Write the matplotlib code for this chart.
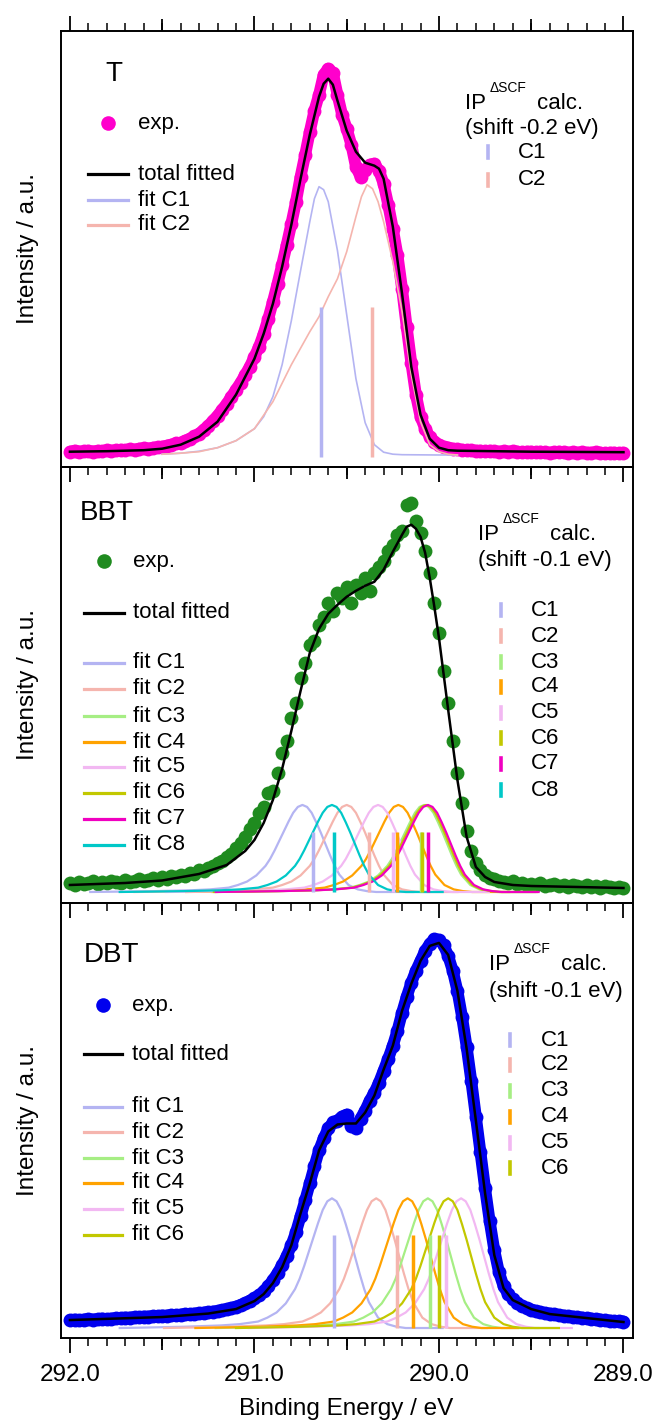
import numpy as np
import matplotlib
matplotlib.use('Agg')
import matplotlib.pyplot as plt
from matplotlib.lines import Line2D
from matplotlib.ticker import FormatStrFormatter

plt.rcParams['font.family'] = ['Liberation Sans', 'DejaVu Sans']

W, H = 657, 1420

# colours of the fitted components / calculated sticks C1..C8
comp_colors = ['#b4b4f2', '#f5b5ae', '#a6ee84', '#ffa200',
               '#f2b8f2', '#c2c800', '#f000c0', '#00c8c8']

# ---------------- T ----------------
# exp. points, 292.0 -> 289.0 eV every 0.025 eV
t_exp_i = [15, 16, 15, 15.5, 16, 15, 16, 15.5, 16.5, 16,
           16.5, 17, 16.5, 17.5, 17, 18, 18.5, 18, 19, 19.5,
           20, 21, 22, 23.5, 24, 26, 28, 30.5, 33, 37,
           41, 46, 51, 57, 63, 70, 77, 84, 92, 100,
           110, 120, 133, 148, 165, 183, 202, 222, 243, 265,
           290, 312, 335, 356, 372, 392, 398, 394, 372, 352,
           338, 322, 300, 290, 297, 302, 303, 296, 283, 262,
           238, 212, 178, 140, 104, 72, 50, 38, 30, 25,
           22, 20, 19, 18, 17.5, 17, 16.5, 16.5, 16, 16,
           15.5, 16, 15.5, 15, 15.5, 15, 15.5, 15, 14.5, 15,
           15, 14.5, 15, 14.5, 14, 14.5, 15, 14.5, 14, 14.5,
           14, 14.5, 14, 14, 14.5, 14, 13.5, 14, 14, 13.5, 14]
t_tot_e = [292.0, 291.8, 291.6, 291.5, 291.4, 291.3, 291.2, 291.1, 291.0, 290.95,
           290.9, 290.85, 290.8, 290.75, 290.7, 290.65, 290.625, 290.6, 290.575, 290.55,
           290.5, 290.45, 290.4, 290.35, 290.325, 290.3, 290.25, 290.2, 290.15, 290.1,
           290.05, 290.0, 289.95, 289.9, 289.5, 289.0]
t_tot_i = [15, 15.5, 16.5, 18, 22, 30, 45, 72, 108, 133,
           163, 200, 242, 288, 332, 370, 383, 388, 382, 366,
           336, 315, 304, 301, 298, 288, 240, 173, 100, 52,
           28, 19, 16.5, 16, 15, 14.5]
t_c1_e = [291.5, 291.4, 291.3, 291.2, 291.1, 291.0, 290.95, 290.9, 290.85, 290.8,
          290.75, 290.7, 290.675, 290.65, 290.625, 290.6, 290.55, 290.5, 290.45, 290.4,
          290.35, 290.3, 290.25, 290.2, 290.0, 289.9]
t_c1_i = [12.5, 13.5, 15.5, 19, 26, 38, 50, 70, 102, 146,
          196, 245, 268, 280, 277, 265, 216, 152, 88, 44,
          22, 14.5, 12.5, 12, 11.7, 11.7]
t_c2_e = [291.5, 291.4, 291.3, 291.2, 291.1, 291.0, 290.9, 290.8, 290.7, 290.65,
          290.6, 290.55, 290.5, 290.45, 290.42, 290.39, 290.36, 290.33, 290.3, 290.25,
          290.2, 290.15, 290.1, 290.05, 290.0, 289.95, 289.9]
t_c2_i = [12.5, 13.5, 15, 19, 26, 38, 65, 102, 135, 150,
          170, 188, 215, 250, 270, 282, 278, 265, 245, 205,
          155, 92, 45, 22, 15, 12.5, 11.7]
t_sticks = [290.64, 290.365]

# ---------------- BBT ----------------
bbt_exp_i = [20, 18, 21, 19, 20, 22, 19, 21, 20, 22,
             21, 20, 23, 21, 22, 24, 22, 23, 25, 23,
             26, 24, 27, 26, 28, 27, 30, 29, 33, 32,
             35, 37, 40, 42, 46, 49, 55, 60, 66, 74,
             80, 90, 96, 110, 112, 130, 150, 162, 185, 200,
             225, 240, 258, 262, 278, 286, 300, 292, 310, 305,
             316, 300, 318, 310, 325, 312, 330, 336, 342, 352,
             358, 368, 372, 398, 400, 382, 370, 352, 330, 300,
             270, 232, 200, 162, 130, 100, 72, 52, 40, 33,
             28, 25, 24, 22, 21, 20, 22, 19, 20, 18,
             19, 18, 20, 17, 18, 19, 17, 18, 16, 18,
             17, 16, 18, 16, 17, 15, 17, 16, 15, 16, 15]
bbt_tot_e = [292.0, 291.7, 291.5, 291.3, 291.15, 291.05, 291.0, 290.95, 290.9, 290.85,
             290.8, 290.75, 290.7, 290.65, 290.6, 290.55, 290.5, 290.45, 290.4, 290.35,
             290.3, 290.25, 290.2, 290.175, 290.15, 290.125, 290.1, 290.075, 290.05, 290.025,
             290.0, 289.95, 289.9, 289.85, 289.8, 289.75, 289.7, 289.6, 289.5, 289.0]
bbt_tot_i = [18, 20, 22.5, 29, 38, 52, 63, 80, 103, 134,
             172, 212, 250, 274, 289, 298, 306, 312, 317, 321,
             333, 351, 368, 376, 378, 374, 366, 350, 325, 296,
             265, 193, 123, 66, 36, 26, 21, 18, 17, 15]
bbt_centers = [290.74, 290.50, 290.08, 290.22, 290.33, 290.07, 290.06, 290.58]
bbt_sticks = [290.68, 290.38, 290.10, 290.23, 290.25, 290.09, 290.06, 290.57]

# ---------------- DBT ----------------
dbt_exp_i = [18, 18.5, 18, 18.5, 19, 18.5, 19, 19.5, 19, 19.5,
             20, 20, 20.5, 20.5, 21, 21, 21.5, 21.5, 22, 22,
             22.5, 22.5, 23, 23, 23.5, 24, 24, 24.5, 25, 25.5,
             26, 26.5, 27, 28, 29, 30, 31.5, 33, 35, 37.5,
             40, 43, 47, 52, 58, 65, 73, 82, 93, 106,
             122, 138, 155, 172, 188, 200, 210, 216, 218, 222,
             224, 212, 210, 220, 228, 238, 246, 256, 268, 280,
             293, 308, 326, 342, 356, 368, 378, 388, 395, 400,
             399, 394, 383, 368, 348, 322, 292, 258, 222, 186,
             150, 117, 88, 66, 52, 44, 39, 35, 32, 30,
             28.5, 27, 26, 25, 24.5, 24, 23, 22.5, 22, 21.5,
             21, 20.5, 20, 19.5, 19, 18.5, 18, 17.5, 17, 17, 16.5]
dbt_tot_e = [292.0, 291.5, 291.25, 291.1, 291.0, 290.95, 290.9, 290.85, 290.8, 290.75,
             290.7, 290.65, 290.6, 290.55, 290.5, 290.45, 290.4, 290.35, 290.3, 290.25,
             290.2, 290.15, 290.1, 290.05, 290.0, 289.95, 289.9, 289.85, 289.8, 289.75,
             289.7, 289.65, 289.6, 289.5, 289.4, 289.2, 289.0]
dbt_tot_i = [18, 21, 24.5, 29, 37, 44, 55, 71, 93, 125,
             155, 188, 207, 214, 215, 215, 226, 243, 269, 293,
             328, 355, 378, 393, 396, 384, 348, 290, 218, 145,
             83, 50, 38, 29, 24, 20, 16]
dbt_centers = [290.58, 290.34, 290.06, 290.17, 289.88, 289.95]
dbt_sticks = [290.57, 290.23, 290.05, 290.14, 289.96, 290.0]

# line shape of one fitted component in BBT/DBT (offset from centre in eV, fraction of peak)
shape_de = [1.15, 1.0, 0.8, 0.6, 0.5, 0.4, 0.35, 0.3, 0.25, 0.2, 0.175, 0.15, 0.125, 0.1, 0.075,
            0.05, 0.025, 0.0, -0.025, -0.05, -0.075, -0.1, -0.125, -0.15, -0.175,
            -0.2, -0.25, -0.3, -0.35, -0.4, -0.6]
shape_f = [0.0, 0.004, 0.01, 0.02, 0.03, 0.05, 0.08, 0.12, 0.19, 0.3, 0.38, 0.48, 0.59, 0.7, 0.81,
           0.91, 0.977, 1.0, 0.977, 0.91, 0.80, 0.68, 0.55, 0.42, 0.30,
           0.2, 0.08, 0.03, 0.01, 0.0, 0.0]


def fx(x):
    return x / W


def fy(y):
    return 1 - y / H


def fig_line(xs, ys, **kw):
    fig.add_artist(Line2D([fx(x) for x in xs], [fy(y) for y in ys],
                          transform=fig.transFigure, **kw))


def fig_txt(x, y, s, size=16, va='center', **kw):
    fig.text(fx(x), fy(y), s, fontsize=size, va=va, ha='left', **kw)


fig = plt.figure(figsize=(W / 100, H / 100), dpi=100)
x0, x1 = 60.7, 632.7
edges = [30.7, 466.7, 903.0, 1338.0]
axes = []
for i in range(3):
    ax = fig.add_axes([fx(x0), fy(edges[i + 1]), (x1 - x0) / W, (edges[i + 1] - edges[i]) / H])
    ax.set_facecolor('none')
    ax.set_xlim(292.05, 288.95)
    ax.set_ylim(0, 436)
    ax.set_yticks([])
    ax.set_xticks([292, 291, 290, 289])
    ax.set_xticks(np.arange(289.0, 292.01, 0.1), minor=True)
    ax.xaxis.set_major_formatter(FormatStrFormatter('%.1f'))
    ax.tick_params(axis='x', which='major', direction='out', length=11, width=1.3,
                   pad=8, labelsize=17.5, labelbottom=(i == 2), top=(i == 0))
    ax.tick_params(axis='x', which='minor', direction='out', length=6, width=1.1, top=(i == 0))
    for s in ax.spines.values():
        s.set_linewidth(1.4)
    sides = ['bottom', 'top'] if i == 0 else ['bottom']
    for side in sides:
        sec = ax.secondary_xaxis(side)
        sec.set_xticks([291.5, 290.5, 289.5])
        sec.tick_params(length=8.3, width=1.3, labelbottom=False, labeltop=False)
        sec.spines[side].set_visible(False)
    axes.append(ax)
    fig.text(fx(28), fy((edges[i] + edges[i + 1]) / 2), 'Intensity / a.u.',
             rotation=90, ha='center', va='center', fontsize=17.5)

fig.text(fx(346), fy(1409), 'Binding Energy / eV', ha='center', va='center', fontsize=17.5)

grid = np.linspace(292.0, 289.0, 121)

# ---- T panel ----
ax = axes[0]
ax.plot(grid, t_exp_i, '-o', color='#ff00cc', lw=8.5, ms=10, mew=0,
        solid_capstyle='round', solid_joinstyle='round', zorder=2)
ax.plot(t_c1_e, t_c1_i, color=comp_colors[0], lw=1.2, zorder=3)
ax.plot(t_c2_e, t_c2_i, color=comp_colors[1], lw=1.2, zorder=3)
ax.vlines(t_sticks, 10, 160, colors=comp_colors[:2], lw=2.5, zorder=4)
ax.plot(t_tot_e, t_tot_i, color='black', lw=1.8, zorder=5)

# ---- BBT panel ----
ax = axes[1]
ax.plot(grid, bbt_exp_i, 'o', color='#1f8b1f', ms=10, mew=0, zorder=2)
for k, c in enumerate(bbt_centers):
    ax.plot(np.add(c, shape_de), np.add(11, np.multiply(87, shape_f)),
            color=comp_colors[k], lw=1.6, zorder=3)
ax.vlines(bbt_sticks, 11, 71, colors=comp_colors, lw=2.5, zorder=4)
ax.plot(bbt_tot_e, bbt_tot_i, color='black', lw=1.8, zorder=5)

# ---- DBT panel ----
ax = axes[2]
ax.plot(grid, dbt_exp_i, '-o', color='#0000ee', lw=8.5, ms=10, mew=0,
        solid_capstyle='round', solid_joinstyle='round', zorder=2)
for k, c in enumerate(dbt_centers):
    ax.plot(np.add(c, shape_de), np.add(10, np.multiply(130, shape_f)),
            color=comp_colors[k], lw=1.6, zorder=3)
ax.vlines(dbt_sticks, 10, 103, colors=comp_colors[:6], lw=2.5, zorder=4)
ax.plot(dbt_tot_e, dbt_tot_i, color='black', lw=1.8, zorder=5)

# ---- legends, drawn by hand ----
panels = [
    dict(name='T', nx=105, ny=74, col='#ff00cc', mx=108, hx=(88, 128), tx=138,
         ye=123, yt=174, yf=[200, 225], shift='(shift -0.2 eV)', ipx=465, ipy=109,
         shy=134, sx=488, stx=518, ys=[152, 179.5]),
    dict(name='BBT', nx=80, ny=513, col='#1f8b1f', mx=104, hx=(84, 124), tx=133,
         ye=561, yt=613, yf=[663, 689, 716, 742, 767, 793, 819, 845], shift='(shift -0.1 eV)',
         ipx=478, ipy=540, shy=566, sx=501, stx=531, ys=[610, 636, 662, 687, 713, 738, 764, 790]),
    dict(name='DBT', nx=84, ny=955, col='#0000ee', mx=103, hx=(84, 122), tx=132,
         ye=1005, yt=1054, yf=[1107, 1132, 1158, 1183, 1209, 1235], shift='(shift -0.1 eV)',
         ipx=489, ipy=970, shy=997, sx=510, stx=541, ys=[1040, 1065, 1091, 1117, 1143, 1168]),
]
for p in panels:
    fig_txt(p['nx'], p['ny'], p['name'], size=20)
    fig_line([p['mx']], [p['ye']], marker='o', ms=10.5, mew=0, color=p['col'], lw=0)
    fig_txt(p['tx'], p['ye'], 'exp.')
    fig_line(p['hx'], [p['yt'], p['yt']], color='black', lw=2.3)
    fig_txt(p['tx'], p['yt'], 'total fitted')
    for k, y in enumerate(p['yf']):
        fig_line(p['hx'], [y, y], color=comp_colors[k], lw=2.3)
        fig_txt(p['tx'], y, 'fit C%d' % (k + 1))
    fig_txt(p['ipx'], p['ipy'], 'IP', va='baseline')
    fig_txt(p['ipx'] + 25, p['ipy'] - 17, '\u0394SCF', size=10, va='baseline')
    fig_txt(p['ipx'] + 72, p['ipy'], 'calc.', va='baseline')
    fig_txt(p['ipx'], p['shy'], p['shift'], va='baseline')
    for k, y in enumerate(p['ys']):
        fig_line([p['sx'], p['sx']], [y - 6, y + 6], color=comp_colors[k], lw=2.6)
        fig_txt(p['stx'], y, 'C%d' % (k + 1))

fig.savefig('out.png', dpi=100)
